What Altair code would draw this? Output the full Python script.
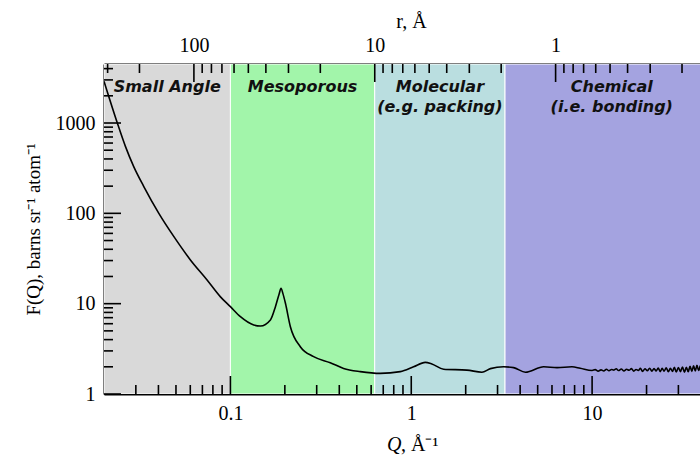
import math
import altair as alt
import pandas as pd

# ---------------- data ----------------
q_vals = [0.0200, 0.0237, 0.0263, 0.0292, 0.0332, 0.0402, 0.0487, 0.0601, 0.0743, 0.0881,
          0.100, 0.1136, 0.1346, 0.1466, 0.1664, 0.1774, 0.1860, 0.1905, 0.1950, 0.2015,
          0.2146, 0.2435, 0.2885, 0.3565, 0.4225, 0.5227, 0.674, 0.870, 1.03, 1.195,
          1.30, 1.51, 2.03, 2.46, 2.74, 3.24, 3.68, 4.28, 5.40, 6.40, 7.74, 8.59,
          10.0, 10.4, 10.8, 11.2, 11.6, 12.0, 12.4, 12.8, 13.2, 13.6, 14.0, 14.5,
          15.0, 15.5, 16.0, 16.5, 17.0, 17.5, 18.0, 18.5, 19.0, 19.6, 20.2, 20.8,
          21.4, 22.0, 22.6, 23.2, 23.8, 24.4, 25.0, 25.7, 26.4, 27.1, 27.8, 28.5,
          29.2, 30.0, 30.8, 31.6, 32.4, 33.2, 34.0, 34.8, 35.6, 36.4, 37.2, 38.0,
          38.8, 39.6]
f_vals = [2900, 1000, 548, 329, 198, 100, 55.2, 30.5, 18.3, 11.9,
          9.26, 7.18, 5.81, 5.66, 6.6, 9.26, 12.8, 14.8, 13.0, 10.1,
          5.56, 3.34, 2.59, 2.22, 1.92, 1.77, 1.69, 1.77, 2.0, 2.24,
          2.15, 1.88, 1.84, 1.74, 1.91, 2.0, 1.96, 1.74, 2.0, 1.96, 2.0, 1.93,
          1.82, 1.86, 1.79, 1.85, 1.80, 1.88, 1.81, 1.87, 1.84, 1.90, 1.82, 1.89,
          1.80, 1.88, 1.83, 1.91, 1.79, 1.87, 1.82, 1.92, 1.78, 1.90, 1.81, 1.93,
          1.79, 1.91, 1.80, 1.94, 1.77, 1.92, 1.79, 1.95, 1.76, 1.93, 1.78, 1.97,
          1.75, 1.96, 1.77, 1.99, 1.74, 1.98, 1.76, 2.03, 1.78, 2.05, 1.80, 2.08,
          1.82, 2.06]

region_names = ["Small Angle", "Mesoporous", "Molecular", "Chemical"]
region_q0 = [0.02, 0.1, 0.628, 3.3]
region_q1 = [0.1, 0.628, 3.3, 50.0]
region_colors = ["#d9d9d9", "#a2f5aa", "#badee0", "#a4a3e0"]
label_line1 = ["Small Angle", "Mesoporous", "Molecular", "Chemical"]
label_line2 = ["", "", "(e.g. packing)", "(i.e. bonding)"]

q_major = [0.1, 1, 10]
q_minor = [0.03, 0.04, 0.05, 0.06, 0.07, 0.08, 0.09,
           0.2, 0.3, 0.4, 0.5, 0.6, 0.7, 0.8, 0.9,
           2, 3, 4, 5, 6, 7, 8, 9, 20, 30]
f_major = [1, 10, 100, 1000]
f_minor = [2, 3, 4, 5, 6, 7, 8, 9, 20, 30, 40, 50, 60, 70, 80, 90,
           200, 300, 400, 500, 600, 700, 800, 900, 2000, 3000, 4000]
r_major = [100, 10, 1]
r_minor = [300, 200, 90, 80, 70, 60, 50, 40, 30, 20,
           9, 8, 7, 6, 5, 4, 3, 2, 0.9, 0.8, 0.7, 0.6, 0.5, 0.4, 0.3, 0.2]

x_title_parts = ["Q", ", Å⁻¹"]
y_title = "F(Q), barns sr⁻¹ atom⁻¹"
top_title = "r, Å"

Q_DOMAIN = [0.02, 39.5]
F_DOMAIN = [1, 4500]
R_DOMAIN = [2 * math.pi / Q_DOMAIN[1], 2 * math.pi / Q_DOMAIN[0]]

W, H = 596, 330
SERIF = "Liberation Serif"
SANS = "DejaVu Sans"

# ---------------- frames ----------------
curve_df = pd.DataFrame({"Q": q_vals, "F": f_vals})
reg_df = pd.DataFrame({"name": region_names, "q0": region_q0, "q1": region_q1,
                       "l1": label_line1, "l2": label_line2})
reg_df["qc"] = (reg_df["q0"] * reg_df["q1"]) ** 0.5
qmaj_df = pd.DataFrame({"q": q_major})
qmin_df = pd.DataFrame({"q": q_minor})
fmaj_df = pd.DataFrame({"f": f_major})
fmin_df = pd.DataFrame({"f": f_minor})
rmaj_df = pd.DataFrame({"r": r_major})
rmin_df = pd.DataFrame({"r": r_minor})

xs = alt.Scale(type="log", domain=Q_DOMAIN, nice=False)
ys = alt.Scale(type="log", domain=F_DOMAIN, nice=False)
rs = alt.Scale(type="log", domain=R_DOMAIN, nice=False, reverse=True)

xaxis = alt.Axis(values=q_major, format="~g", ticks=False, grid=False, title=None,
                 domainColor="black", domainWidth=2, labelFont=SERIF, labelFontSize=20,
                 labelColor="black", labelPadding=9)
yaxis = alt.Axis(values=f_major, format="~g", ticks=False, grid=False, title=y_title,
                 domainColor="black", domainWidth=2, labelFont=SERIF, labelFontSize=20,
                 labelColor="black", labelPadding=9, titleFont=SERIF, titleFontSize=19,
                 titleFontWeight="normal", titleColor="black", titlePadding=12)
topaxis = alt.Axis(orient="top", values=r_major, format="~g", ticks=False, grid=False,
                   title=top_title, titleX=307, titleY=-37, titleBaseline="alphabetic",
                   domainColor="black", domainWidth=2, labelFont=SERIF, labelFontSize=20,
                   labelColor="black", labelPadding=9, titleFont=SERIF, titleFontSize=20,
                   titleFontWeight="normal", titleColor="black")

regions = alt.Chart(reg_df).mark_rect(stroke="white", strokeWidth=1, clip=True).encode(
    x=alt.X("q0:Q", scale=xs, axis=xaxis),
    x2="q1",
    y=alt.value(0),
    y2=alt.value(H),
    color=alt.Color("name:N", scale=alt.Scale(domain=region_names, range=region_colors),
                    legend=None),
)

txt_style = dict(font=SANS, fontSize=16, fontWeight="bold", fontStyle="italic",
                 color="#111111", align="center", baseline="alphabetic")
text1 = alt.Chart(reg_df).mark_text(**txt_style).encode(
    x=alt.X("qc:Q", scale=xs, axis=xaxis), y=alt.value(28), text="l1:N")
text2 = alt.Chart(reg_df).mark_text(**txt_style).encode(
    x=alt.X("qc:Q", scale=xs, axis=xaxis), y=alt.value(48), text="l2:N")

curve = alt.Chart(curve_df).mark_line(color="black", strokeWidth=1.6,
                                      interpolate="monotone", clip=True).encode(
    x=alt.X("Q:Q", scale=xs, axis=xaxis),
    y=alt.Y("F:Q", scale=ys, axis=yaxis),
)

rule_style = dict(color="black", strokeWidth=1.6)
bmaj = alt.Chart(qmaj_df).mark_rule(**rule_style).encode(
    x=alt.X("q:Q", scale=xs, axis=xaxis), y=alt.value(H), y2=alt.value(H - 18))
bmin = alt.Chart(qmin_df).mark_rule(**rule_style).encode(
    x=alt.X("q:Q", scale=xs, axis=xaxis), y=alt.value(H), y2=alt.value(H - 9))
lmaj = alt.Chart(fmaj_df).mark_rule(**rule_style).encode(
    y=alt.Y("f:Q", scale=ys, axis=yaxis), x=alt.value(0), x2=alt.value(17))
lmin = alt.Chart(fmin_df).mark_rule(**rule_style).encode(
    y=alt.Y("f:Q", scale=ys, axis=yaxis), x=alt.value(0), x2=alt.value(9))

xt = alt.Chart(pd.DataFrame({"t": [x_title_parts[0]]})).mark_text(
    font=SERIF, fontSize=20, fontStyle="italic", color="black", align="left",
    baseline="alphabetic").encode(x=alt.value(283), y=alt.value(387), text="t:N")
xt2 = alt.Chart(pd.DataFrame({"t": [x_title_parts[1]]})).mark_text(
    font=SERIF, fontSize=20, color="black", align="left",
    baseline="alphabetic").encode(x=alt.value(297), y=alt.value(387), text="t:N")

tmaj = alt.Chart(rmaj_df).mark_rule(**rule_style).encode(
    x=alt.X("r:Q", scale=rs, axis=topaxis), y=alt.value(0), y2=alt.value(18))
tmin = alt.Chart(rmin_df).mark_rule(**rule_style).encode(
    x=alt.X("r:Q", scale=rs, axis=topaxis), y=alt.value(0), y2=alt.value(9))

main = alt.layer(regions, curve, bmaj, bmin, lmaj, lmin, text1, text2, xt, xt2)
top = alt.layer(tmaj, tmin)

chart = alt.layer(main, top).resolve_scale(x="independent").properties(
    width=W, height=H,
    padding={"left": 104, "top": 64, "right": 0, "bottom": 65},
    autosize=alt.AutoSizeParams(type="none"),
    background="white",
).configure_view(stroke=None)

chart.save("out.html", embed_options={"renderer": "svg", "actions": False})
